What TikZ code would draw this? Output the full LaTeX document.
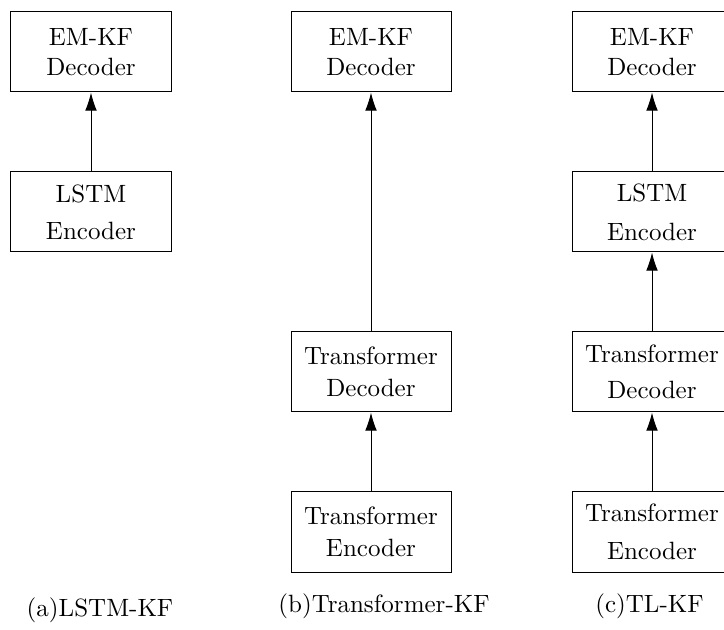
\documentclass[tikz,border=0pt]{standalone}
\usetikzlibrary{arrows.meta}
\begin{document}
\begin{tikzpicture}[x=0.4pt,y=-0.4pt,
  blockbox/.style={draw, minimum width=64pt, minimum height=32pt, align=center, inner sep=0pt},
  flow/.style={-{Latex[length=7.3pt,width=4.7pt]}},
  caption/.style={anchor=base, inner sep=0pt}]
\useasboundingbox (0,0) rectangle (724,630);
\clip (0,0) rectangle (724,630);
% column a
\node[blockbox] (aem) at (91,52) {EM-KF\\Decoder};
\node[blockbox] (alstm) at (91,212) {LSTM\\[2.9pt]Encoder};
\draw[flow] (alstm.north) -- (aem.south);
\node[caption] (acap) at (100,616) {(a)LSTM-KF};
% column b
\node[blockbox] (bem) at (371,52) {EM-KF\\Decoder};
\node[blockbox] (btd) at (371,372) {Transformer\\[0.7pt]Decoder};
\node[blockbox] (bte) at (371,532) {Transformer\\[1pt]Encoder};
\draw[flow] (btd.north) -- (bem.south);
\draw[flow] (bte.north) -- (btd.south);
\node[caption] (bcap) at (384,612) {(b)Transformer-KF};
% column c
\node[blockbox] (cem) at (652,52) {EM-KF\\Decoder};
\node[blockbox] (clstm) at (652,212) {LSTM\\[3.6pt]Encoder};
\node[blockbox] (ctd) at (652,372) {Transformer\\[2.2pt]Decoder};
\node[blockbox] (cte) at (652,532) {Transformer\\[3.4pt]Encoder};
\draw[flow] (clstm.north) -- (cem.south);
\draw[flow] (ctd.north) -- (clstm.south);
\draw[flow] (cte.north) -- (ctd.south);
\node[caption] (ccap) at (649.5,612) {(c)TL-KF};
\end{tikzpicture}
\end{document}
